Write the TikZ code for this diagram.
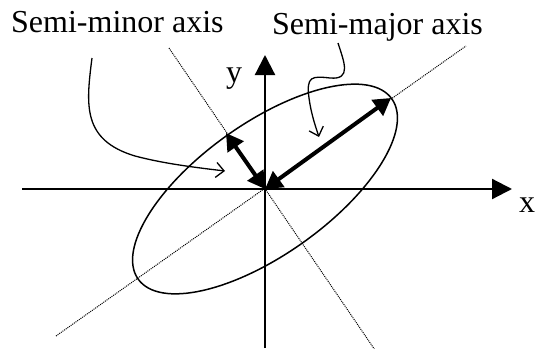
\documentclass[tikz,border=0pt]{standalone}
\usepackage{fontspec}
\setmainfont{Liberation Serif}
\usetikzlibrary{arrows.meta}
\begin{document}
\begin{tikzpicture}[x=1pt,y=-1pt,
  lbl/.style={font=\fontsize{32}{37}\selectfont, inner sep=0pt},
  axisline/.style={line width=2.2pt, -{Triangle[length=20pt,width=20pt]}},
  guide/.style={line width=1pt, dash pattern=on 1pt off 1pt},
  semiaxis/.style={line width=4pt, {Triangle[length=17pt,width=19pt]}-{Triangle[length=17pt,width=19pt]}},
  pointer/.style={line width=1.3pt, -{Straight Barb[length=8pt,width=15pt]}}]
\useasboundingbox (0,0) rectangle (535,348);
% origin and construction points
\coordinate (O) at (265,189);
\coordinate (xs) at (22,189);
\coordinate (xe) at (512,189);
\coordinate (ys) at (265,348);
\coordinate (ye) at (265,55);
\coordinate (maj1) at (56,336);
\coordinate (maj2) at (466,46);
\coordinate (min1) at (169,48);
\coordinate (min2) at (377,353);
\coordinate (Pmaj) at (391,98);
\coordinate (Pmin) at (226,133);
% guide lines
\draw[guide] (maj1) -- (maj2);
\draw[guide] (min1) -- (min2);
% axes
\draw[axisline] (xs) -- (xe);
\draw[axisline] (ys) -- (ye);
% ellipse
\draw[line width=1.5pt, shift={(O)}, rotate=35.4] (0,0) ellipse (155.6pt and 65.7pt);
% semi-axes
\draw[semiaxis] (O) -- (Pmaj);
\draw[semiaxis] (O) -- (Pmin);
% labels
\node[lbl, anchor=base west] (tmin) at (11,32) {Semi-minor axis};
\node[lbl, anchor=base west] (tmaj) at (272,34) {Semi-major axis};
\node[lbl, anchor=base] (ylab) at (234,82) {y};
\node[lbl, anchor=base] (xlab) at (527,212) {x};
% pointers
\coordinate (s1) at (92,58);
\coordinate (e1) at (225,171);
\draw[pointer] (s1) .. controls (86,105) and (82,140) .. (135,156) .. controls (165,164) and (200,168) .. (e1);
\coordinate (s2) at (338,43);
\coordinate (e2) at (319,137);
\draw[pointer] (s2) .. controls (344,62) and (352,80) .. (330,78) .. controls (312,76) and (306,76) .. (309,98) .. controls (311,113) and (315,125) .. (e2);
\end{tikzpicture}
\end{document}
